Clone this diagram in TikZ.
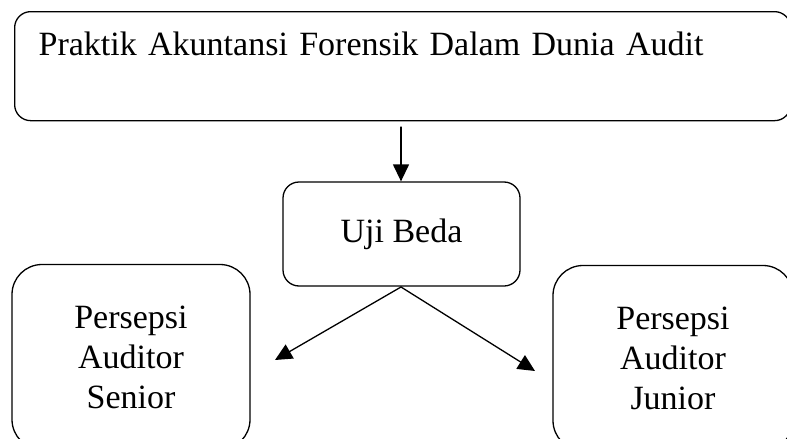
\documentclass[tikz,border=0pt]{standalone}
\usepackage{fontspec}
\setmainfont{Liberation Serif}
\usetikzlibrary{arrows.meta}
\tikzset{
	kotak/.style = {draw, rounded corners = 16pt, inner sep = 0pt},
	kotakbesar/.style = {draw, rounded corners = 30pt, inner sep = 0pt, align = center,
		minimum width = 238pt, minimum height = 185pt},
}
\begin{document}
\begin{tikzpicture}[x = 1pt, y = -1pt, line join = round, line cap = round, line width = 1.3pt,
	font = \fontsize{34}{40}\selectfont, >={Triangle[length=17pt,width=16pt]}]
	\useasboundingbox (0,0) rectangle (787,439);
	\clip (0,0) rectangle (787,439);
	% kotak atas
	\node[kotak, anchor = north west, text width = 728pt, align = left, inner xsep = 24pt,
		text height = 44pt, text depth = 65pt] (praktik) at (14,11)
		{Praktik Akuntansi Forensik Dalam Dunia Audit};
	\node[kotak, minimum width = 237pt, minimum height = 104pt] (uji) at (401.5,234) {Uji Beda};
	\node[kotakbesar] (senior) at (131,357) {Persepsi\\Auditor\\Senior};
	\node[kotakbesar, minimum width = 240pt] (junior) at (673,358) {Persepsi\\Auditor\\Junior};
	\path
	(401,127) coordinate (A)
	(401,287) coordinate (B)
	(275,360) coordinate (S)
	(535,371) coordinate (J)
	;
	\draw[->] (A) -- (uji.north -| A);
	\draw[->] (B) -- (S);
	\draw[->] (B) -- (J);
\end{tikzpicture}
\end{document}
